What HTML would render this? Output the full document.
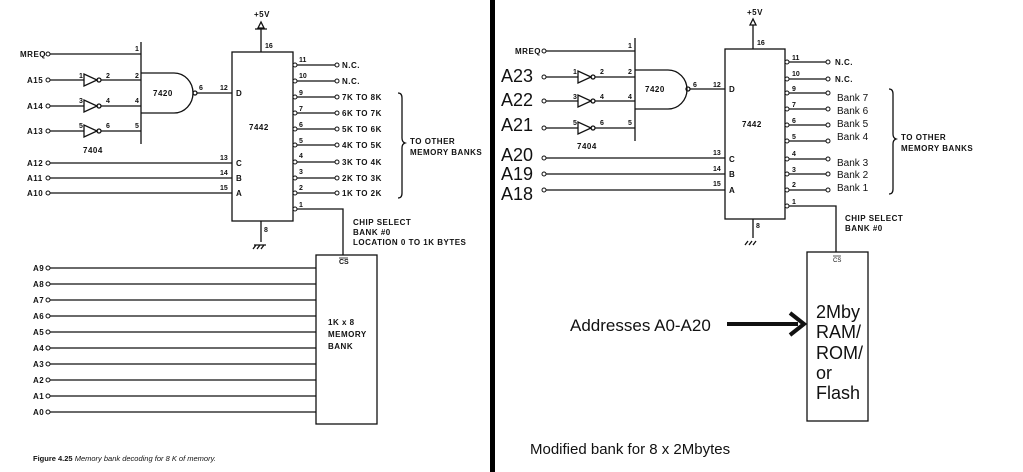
<!DOCTYPE html>
<html><head><meta charset="utf-8"><style>
html,body{margin:0;padding:0;background:#fff;}
svg{display:block}
.s{font-family:"Liberation Sans",sans-serif;font-size:8px;font-weight:bold;fill:#111;letter-spacing:0.5px}
.p{font-family:"Liberation Sans",sans-serif;font-size:7px;font-weight:bold;fill:#111}
.b{font-family:"Liberation Sans",sans-serif;font-size:18px;fill:#111}
.m{font-family:"Liberation Sans",sans-serif;font-size:10px;fill:#111}
</style></head><body>
<svg width="1023" height="472" viewBox="0 0 1023 472" xmlns="http://www.w3.org/2000/svg">
<rect x="0" y="0" width="1023" height="472" fill="#fff"/>
<rect x="490" y="0" width="5" height="472" fill="#000"/>
<g stroke="#111" stroke-width="1.3" fill="none">
<path d="M261 28V52M255 29h12"/>
<polygon points="261,22 258,28 264,28"/>
<rect x="232" y="52" width="61" height="169"/>
<path d="M141 42V144"/>
<path d="M50 54H141M50 80H84M50 106H84M50 131H84M101 80H141M101 106H141M101 131H141"/>
<polygon points="84,74 84,86 97,80"/><circle cx="99" cy="80" r="2"/>
<polygon points="84,100 84,112 97,106"/><circle cx="99" cy="106" r="2"/>
<polygon points="84,125 84,137 97,131"/><circle cx="99" cy="131" r="2"/>
<path d="M141 73H174A19 20 0 0 1 174 113H141"/>
<circle cx="195" cy="93" r="2"/>
<path d="M197 93H232M50 163H232M50 178H232M50 193H232"/>
<path d="M297 65H335M297 81H335M297 97H335M297 113H335M297 129H335M297 145H335M297 162H335M297 178H335M297 193H335M297 209H343V255"/>
<path d="M261 221V242M256 245l-3 4M260 245l-3 4M264 245l-3 4M254 245h12"/>
<path d="M398 93q4 0 4 5v40q0 4 3 5q-3 1 -3 5v45q0 5 -4 5"/>
<rect x="316" y="255" width="61" height="169"/>
<path d="M50 268H316M50 284H316M50 300H316M50 316H316M50 332H316M50 348H316M50 364H316M50 380H316M50 396H316M50 412H316"/>
<path d="M753 25V49"/>
<polygon points="753,19 750,25 756,25"/>
<rect x="725" y="49" width="60" height="170"/>
<path d="M635 38V141"/>
<path d="M546 51H635M546 77H578M546 101H578M546 128H578M595 77H635M595 101H635M595 128H635"/>
<polygon points="578,71 578,83 591,77"/><circle cx="593" cy="77" r="2"/>
<polygon points="578,95 578,107 591,101"/><circle cx="593" cy="101" r="2"/>
<polygon points="578,122 578,134 591,128"/><circle cx="593" cy="128" r="2"/>
<path d="M635 70H668A19 19.5 0 0 1 668 109H635"/>
<circle cx="688" cy="89" r="2"/>
<path d="M690 89H725M546 158H725M546 174H725M546 190H725"/>
<path d="M789 62H826M789 79H826M789 93H826M789 109H826M789 125H826M789 141H826M789 159H826M789 174H826M789 190H826M789 206H836V252"/>
<path d="M753 219V238M748 241l-3 4M752 241l-3 4M756 241l-3 4"/>
<path d="M889 89q4 0 4 5v40q0 4 3 5q-3 1 -3 5v45q0 5 -4 5"/>
<rect x="807" y="252" width="61" height="169"/>
<path d="M727 324H798" stroke-width="4"/>
<path d="M790 313L804 324L790 335" stroke-width="4"/>
</g>
<g fill="#fff" stroke="#111" stroke-width="1">
<circle cx="48" cy="54" r="2"/><circle cx="48" cy="80" r="2"/><circle cx="48" cy="106" r="2"/><circle cx="48" cy="131" r="2"/>
<circle cx="48" cy="163" r="2"/><circle cx="48" cy="178" r="2"/><circle cx="48" cy="193" r="2"/>
<circle cx="295" cy="65" r="2"/><circle cx="295" cy="81" r="2"/><circle cx="295" cy="97" r="2"/><circle cx="295" cy="113" r="2"/><circle cx="295" cy="129" r="2"/><circle cx="295" cy="145" r="2"/><circle cx="295" cy="162" r="2"/><circle cx="295" cy="178" r="2"/><circle cx="295" cy="193" r="2"/><circle cx="295" cy="209" r="2"/>
<circle cx="337" cy="65" r="2"/><circle cx="337" cy="81" r="2"/><circle cx="337" cy="97" r="2"/><circle cx="337" cy="113" r="2"/><circle cx="337" cy="129" r="2"/><circle cx="337" cy="145" r="2"/><circle cx="337" cy="162" r="2"/><circle cx="337" cy="178" r="2"/><circle cx="337" cy="193" r="2"/>
<circle cx="48" cy="268" r="2"/><circle cx="48" cy="284" r="2"/><circle cx="48" cy="300" r="2"/><circle cx="48" cy="316" r="2"/><circle cx="48" cy="332" r="2"/><circle cx="48" cy="348" r="2"/><circle cx="48" cy="364" r="2"/><circle cx="48" cy="380" r="2"/><circle cx="48" cy="396" r="2"/><circle cx="48" cy="412" r="2"/>
<circle cx="544" cy="51" r="2"/><circle cx="544" cy="77" r="2"/><circle cx="544" cy="101" r="2"/><circle cx="544" cy="128" r="2"/>
<circle cx="544" cy="158" r="2"/><circle cx="544" cy="174" r="2"/><circle cx="544" cy="190" r="2"/>
<circle cx="787" cy="62" r="2"/><circle cx="787" cy="79" r="2"/><circle cx="787" cy="93" r="2"/><circle cx="787" cy="109" r="2"/><circle cx="787" cy="125" r="2"/><circle cx="787" cy="141" r="2"/><circle cx="787" cy="159" r="2"/><circle cx="787" cy="174" r="2"/><circle cx="787" cy="190" r="2"/><circle cx="787" cy="206" r="2"/>
<circle cx="828" cy="62" r="2"/><circle cx="828" cy="79" r="2"/><circle cx="828" cy="93" r="2"/><circle cx="828" cy="109" r="2"/><circle cx="828" cy="125" r="2"/><circle cx="828" cy="141" r="2"/><circle cx="828" cy="159" r="2"/><circle cx="828" cy="174" r="2"/><circle cx="828" cy="190" r="2"/>
</g>
<text class="s" x="254" y="17">+5V</text>
<text class="p" x="265" y="48">16</text>
<text class="s" x="20" y="57">MREQ</text>
<text class="s" x="27" y="83">A15</text><text class="s" x="27" y="109">A14</text><text class="s" x="27" y="134">A13</text>
<text class="s" x="27" y="166">A12</text><text class="s" x="27" y="181">A11</text><text class="s" x="27" y="196">A10</text>
<text class="p" x="135" y="51">1</text><text class="p" x="135" y="78">2</text><text class="p" x="135" y="103">4</text><text class="p" x="135" y="128">5</text>
<text class="p" x="79" y="78">1</text><text class="p" x="79" y="103">3</text><text class="p" x="79" y="128">5</text>
<text class="p" x="106" y="78">2</text><text class="p" x="106" y="103">4</text><text class="p" x="106" y="128">6</text>
<text class="s" x="83" y="153">7404</text>
<text class="s" x="153" y="96">7420</text>
<text class="p" x="199" y="90">6</text><text class="p" x="220" y="90">12</text>
<text class="s" x="236" y="96">D</text><text class="s" x="236" y="166">C</text><text class="s" x="236" y="181">B</text><text class="s" x="236" y="196">A</text>
<text class="p" x="220" y="160">13</text><text class="p" x="220" y="175">14</text><text class="p" x="220" y="190">15</text>
<text class="s" x="249" y="130">7442</text>
<text class="p" x="299" y="62">11</text><text class="p" x="299" y="78">10</text><text class="p" x="299" y="95">9</text><text class="p" x="299" y="111">7</text><text class="p" x="299" y="127">6</text><text class="p" x="299" y="143">5</text><text class="p" x="299" y="158">4</text><text class="p" x="299" y="174">3</text><text class="p" x="299" y="190">2</text><text class="p" x="299" y="207">1</text>
<text class="s" x="342" y="68">N.C.</text><text class="s" x="342" y="84">N.C.</text>
<text class="s" x="342" y="100">7K TO 8K</text><text class="s" x="342" y="116">6K TO 7K</text><text class="s" x="342" y="132">5K TO 6K</text><text class="s" x="342" y="148">4K TO 5K</text><text class="s" x="342" y="165">3K TO 4K</text><text class="s" x="342" y="181">2K TO 3K</text><text class="s" x="342" y="196">1K TO 2K</text>
<text class="s" x="410" y="144">TO OTHER</text><text class="s" x="410" y="155">MEMORY BANKS</text>
<text class="p" x="264" y="232">8</text>
<text class="s" x="353" y="225">CHIP SELECT</text><text class="s" x="353" y="235">BANK #0</text><text class="s" x="353" y="245">LOCATION 0 TO 1K BYTES</text>
<text class="p" x="339" y="264">CS</text><path d="M339 258h9" stroke="#111" stroke-width="0.8"/>
<text class="s" x="33" y="271">A9</text><text class="s" x="33" y="287">A8</text><text class="s" x="33" y="303">A7</text><text class="s" x="33" y="319">A6</text><text class="s" x="33" y="335">A5</text><text class="s" x="33" y="351">A4</text><text class="s" x="33" y="367">A3</text><text class="s" x="33" y="383">A2</text><text class="s" x="33" y="399">A1</text><text class="s" x="33" y="415">A0</text>
<text class="s" x="328" y="325">1K x 8</text><text class="s" x="328" y="337">MEMORY</text><text class="s" x="328" y="349">BANK</text>
<text x="33" y="461" style="font-family:'Liberation Sans',sans-serif;font-size:7.5px;fill:#111"><tspan font-weight="bold">Figure 4.25</tspan><tspan font-style="italic"> Memory bank decoding for 8 K of memory.</tspan></text>
<text class="s" x="747" y="15">+5V</text>
<text class="p" x="757" y="45">16</text>
<text class="s" x="515" y="54">MREQ</text>
<text class="b" x="501" y="82">A23</text><text class="b" x="501" y="106">A22</text><text class="b" x="501" y="131">A21</text>
<text class="b" x="501" y="161">A20</text><text class="b" x="501" y="180">A19</text><text class="b" x="501" y="200">A18</text>
<text class="p" x="628" y="48">1</text><text class="p" x="628" y="74">2</text><text class="p" x="628" y="99">4</text><text class="p" x="628" y="125">5</text>
<text class="p" x="573" y="74">1</text><text class="p" x="573" y="99">3</text><text class="p" x="573" y="125">5</text>
<text class="p" x="600" y="74">2</text><text class="p" x="600" y="99">4</text><text class="p" x="600" y="125">6</text>
<text class="s" x="577" y="149">7404</text>
<text class="s" x="645" y="92">7420</text>
<text class="p" x="693" y="87">6</text><text class="p" x="713" y="87">12</text>
<text class="s" x="729" y="92">D</text><text class="s" x="729" y="162">C</text><text class="s" x="729" y="177">B</text><text class="s" x="729" y="193">A</text>
<text class="p" x="713" y="155">13</text><text class="p" x="713" y="171">14</text><text class="p" x="713" y="186">15</text>
<text class="s" x="742" y="127">7442</text>
<text class="p" x="792" y="60">11</text><text class="p" x="792" y="76">10</text><text class="p" x="792" y="91">9</text><text class="p" x="792" y="107">7</text><text class="p" x="792" y="123">6</text><text class="p" x="792" y="139">5</text><text class="p" x="792" y="156">4</text><text class="p" x="792" y="172">3</text><text class="p" x="792" y="187">2</text><text class="p" x="792" y="204">1</text>
<text class="s" x="835" y="65">N.C.</text><text class="s" x="835" y="82">N.C.</text>
<text class="m" x="837" y="101">Bank 7</text><text class="m" x="837" y="114">Bank 6</text><text class="m" x="837" y="127">Bank 5</text><text class="m" x="837" y="140">Bank 4</text><text class="m" x="837" y="166">Bank 3</text><text class="m" x="837" y="178">Bank 2</text><text class="m" x="837" y="191">Bank 1</text>
<text class="s" x="901" y="140">TO OTHER</text><text class="s" x="901" y="151">MEMORY BANKS</text>
<text class="p" x="756" y="228">8</text>
<text class="s" x="845" y="221">CHIP SELECT</text><text class="s" x="845" y="231">BANK #0</text>
<text x="833" y="262" style="font-family:'Liberation Sans',sans-serif;font-size:6px;fill:#111">CS</text><path d="M833 256h8" stroke="#111" stroke-width="0.7"/>
<text class="b" x="816" y="318">2Mby</text><text class="b" x="816" y="338">RAM/</text><text class="b" x="816" y="359">ROM/</text><text class="b" x="816" y="379">or</text><text class="b" x="816" y="399">Flash</text>
<text class="b" x="570" y="331" style="font-size:17px">Addresses A0-A20</text>
<text x="530" y="454" style="font-family:'Liberation Sans',sans-serif;font-size:15px;fill:#111">Modified bank for 8 x 2Mbytes</text>
</svg>
</body></html>
